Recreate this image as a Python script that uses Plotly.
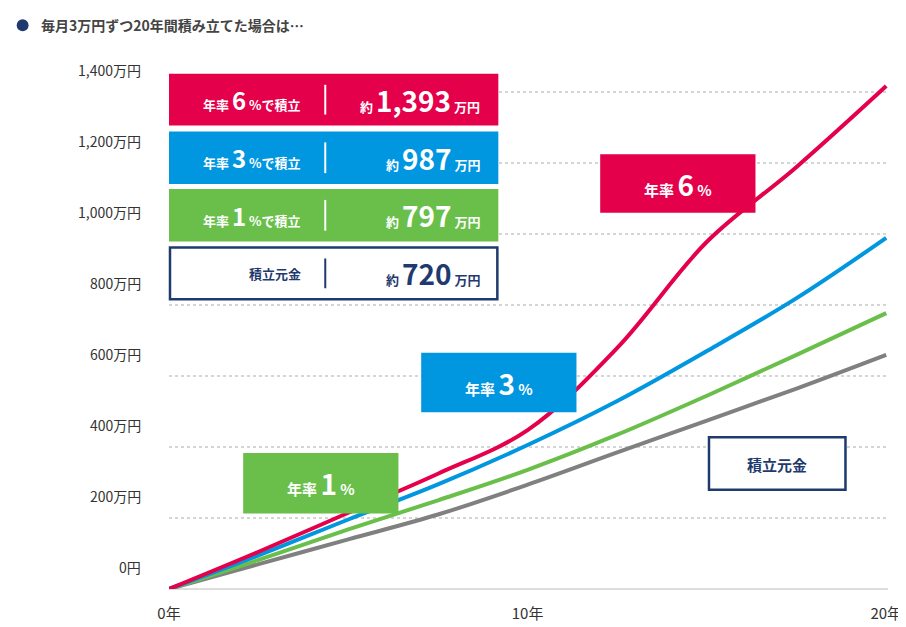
import plotly.graph_objects as go

years = [0, 2.5, 5, 7.5, 10, 12.5, 15, 17.5, 20]
rate6 = [0, 105, 215, 325, 448, 680, 979, 1190, 1418]
rate3 = [0, 95, 196, 295, 406, 530, 671, 820, 990]
rate1 = [0, 82, 168, 250, 336, 435, 545, 660, 778]
principal = [0, 70, 140, 210, 294, 385, 475, 565, 660]

y_ticks = [0, 200, 400, 600, 800, 1000, 1200, 1400]
y_labels = ["0円", "200万円", "400万円", "600万円", "800万円", "1,000万円", "1,200万円", "1,400万円"]
x_ticks = [0, 10, 20]
x_labels = ["0年", "10年", "20年"]

RED, BLUE, GREEN, GRAY, NAVY = "#e4004a", "#0096e0", "#6abf4b", "#808080", "#1f3a6e"
FONT = "Noto Sans CJK JP"
W, H = 906, 627
L, R, T, B = 161, 18, 49, 42
PW, PH = W - L - R, H - T - B


def px(x):
    return (x - L) / PW


def py(y):
    return 1 - (y - T) / PH


fig = go.Figure()
for vals, col in [(principal, GRAY), (rate1, GREEN), (rate3, BLUE), (rate6, RED)]:
    fig.add_trace(go.Scatter(x=years, y=vals, mode="lines", line=dict(color=col, width=4, shape="spline"),
                             showlegend=False, hoverinfo="skip"))

shapes, annos = [], []


def box(x0, y0, x1, y1, fill, border=None):
    shapes.append(dict(type="rect", xref="paper", yref="paper", x0=px(x0), x1=px(x1), y0=py(y1), y1=py(y0),
                       fillcolor=fill, line=dict(color=border or fill, width=2.5 if border else 0), layer="above"))


def text(x, y, s, size, col, anchor="center"):
    annos.append(dict(xref="paper", yref="paper", x=px(x), y=py(y), text=s, showarrow=False, xanchor=anchor,
                      yanchor="middle", font=dict(family=FONT, size=size, color=col)))


def big(s):
    return f"<span style='font-size:28px'>{s}</span>"


# summary boxes
rows = [(66, 118, RED, "6", "1,393"), (124, 177, BLUE, "3", "987"), (182, 235, GREEN, "1", "797")]
for y0, y1, col, r, v in rows:
    box(161, y0, 494, y1, col)
    shapes.append(dict(type="line", xref="paper", yref="paper", x0=px(319), x1=px(319), y0=py(y1 - 11), y1=py(y0 + 11),
                       line=dict(color="white", width=2), layer="above"))
    text(296, (y0 + y1) / 2, f"<b>年率 <span style='font-size:24px'>{r}</span> %で積立</b>", 13, "white", "right")
    text(477, (y0 + y1) / 2, f"<b>約 {big(v)} 万円</b>", 13, "white", "right")
box(162, 241, 493, 293, "white", NAVY)
shapes.append(dict(type="line", xref="paper", yref="paper", x0=px(319), x1=px(319), y0=py(282), y1=py(252),
                   line=dict(color=NAVY, width=2), layer="above"))
text(296, 267, "<b>積立元金</b>", 13, NAVY, "right")
text(477, 267, f"<b>約 {big('720')} 万円</b>", 13, NAVY, "right")

# line labels
for x0, y0, x1, y1, col, r in [(597, 147, 754, 206, RED, "6"), (416, 347, 573, 407, BLUE, "3"), (236, 448, 393, 509, GREEN, "1")]:
    box(x0, y0, x1, y1, col)
    text((x0 + x1) / 2, (y0 + y1) / 2, f"<b>年率 {big(r)} %</b>", 15, "white")
box(707, 432, 845, 485, "white", NAVY)
text(776, 460, "<b>積立元金</b>", 15, NAVY)

# y labels sit above their gridlines
for v, s in zip(y_ticks, y_labels):
    annos.append(dict(xref="paper", yref="y", x=px(135), y=v + 62, text=s, showarrow=False, xanchor="right",
                      font=dict(family=FONT, size=14, color="#333")))

# title
shapes.append(dict(type="circle", xref="paper", yref="paper", x0=px(7), x1=px(19), y0=py(23), y1=py(11),
                   fillcolor=NAVY, line_width=0))
text(30, 17, "<b>毎月3万円ずつ20年間積み立てた場合は…</b>", 14, "#444", "left")

fig.update_layout(
    width=W, height=H, margin=dict(l=L, r=R, t=T, b=B), plot_bgcolor="white", paper_bgcolor="white",
    shapes=shapes, annotations=annos, font=dict(family=FONT),
    xaxis=dict(range=[0, 20.05], tickvals=x_ticks, ticktext=x_labels, showgrid=False, zeroline=False,
               tickfont=dict(size=15, color="#333"), ticklabelstandoff=14, fixedrange=True),
    yaxis=dict(range=[0, 1500], tickvals=y_ticks, showticklabels=False, gridcolor="#d5d5d5", griddash="dot",
               gridwidth=1.5, zeroline=True, zerolinecolor="#dddddd", zerolinewidth=2),
)
fig.write_html("out.html")
